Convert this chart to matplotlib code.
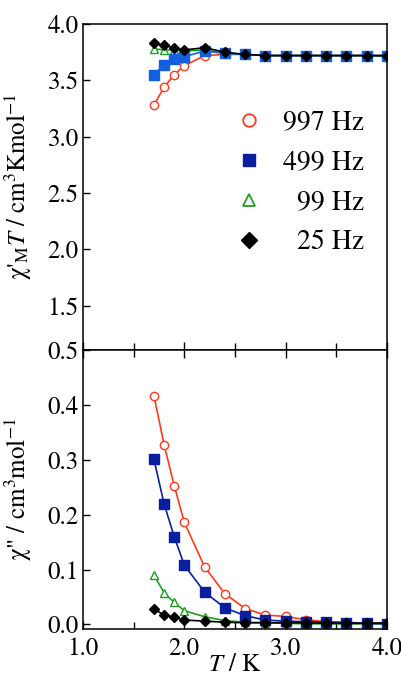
import numpy as np
import matplotlib
matplotlib.use("Agg")
import matplotlib.pyplot as plt
from matplotlib.lines import Line2D
from matplotlib.ticker import MultipleLocator

plt.rcParams["font.family"] = ["STIXGeneral", "Liberation Serif", "DejaVu Serif"]
plt.rcParams["mathtext.fontset"] = "stix"

# temperatures (K)
temps = [1.7, 1.8, 1.9, 2.0, 2.2, 2.4, 2.6, 2.8, 3.0, 3.2, 3.4, 3.6, 3.8, 4.0]

# chi'_M T (cm3 K mol-1)
chit_997 = [3.28, 3.44, 3.55, 3.63, 3.72, 3.73, 3.73, 3.72, 3.72, 3.72, 3.72, 3.72, 3.72, 3.72]
chit_499 = [3.55, 3.64, 3.69, 3.71, 3.76, 3.74, 3.73, 3.72, 3.72, 3.72, 3.72, 3.72, 3.72, 3.72]
chit_99 = [3.78, 3.77, 3.77, 3.76, 3.77, 3.74, 3.73, 3.72, 3.72, 3.72, 3.72, 3.72, 3.72, 3.71]
chit_25 = [3.83, 3.81, 3.79, 3.77, 3.79, 3.75, 3.73, 3.72, 3.72, 3.72, 3.72, 3.72, 3.72, 3.72]

# chi'' (cm3 mol-1)
chi2_997 = [0.417, 0.328, 0.253, 0.186, 0.105, 0.056, 0.029, 0.017, 0.0146, 0.0084,
            0.005, 0.004, 0.002, 0.002]
chi2_499 = [0.301, 0.220, 0.160, 0.108, 0.059, 0.030, 0.016, 0.008, 0.006, 0.005,
            0.004, 0.003, 0.002, 0.001]
chi2_99 = [0.090, 0.058, 0.040, 0.025, 0.014, 0.007, 0.004, 0.003, 0.002, 0.001,
           0.001, 0.001, 0.001, 0.001]
chi2_25 = [0.028, 0.017, 0.013, 0.008, 0.006, 0.004, 0.003, 0.003, 0.003, 0.003,
           0.002, 0.002, 0.002, 0.003]

legend_labels = ["997 Hz", "499 Hz", "  99 Hz", "  25 Hz"]

red = "#ff3a1a"
blue_top = "#145fe0"
blue_bot = "#0a1fa0"
green = "#1e9e1e"

fig = plt.figure(figsize=(4.01, 6.76), dpi=100)
ax1 = fig.add_axes([0.207, 0.482, 0.758, 0.4825])
ax2 = fig.add_axes([0.207, 0.0695, 0.758, 0.4125])

lw = 1.2

# top panel
ax1.plot(temps, chit_997, "-o", color=red, mfc="white", mec=red, ms=6, mew=1.0, lw=lw)
ax1.plot(temps, chit_99, "-^", color=green, mfc="white", mec=green, ms=6, mew=1.0, lw=lw)
ax1.plot(temps, chit_499, "-s", color=blue_top, mfc=blue_top, mec=blue_top, ms=7, lw=lw)
ax1.plot(temps, chit_25, "-D", color="black", mfc="black", ms=5, lw=lw)

# bottom panel
ax2.plot(temps, chi2_997, "-o", color=red, mfc="white", mec=red, ms=6, mew=1.0, lw=lw)
ax2.plot(temps, chi2_99, "-^", color=green, mfc="white", mec=green, ms=6, mew=1.0, lw=lw)
ax2.plot(temps, chi2_499, "-s", color=blue_bot, mfc=blue_bot, mec=blue_bot, ms=7, lw=lw)
ax2.plot(temps, chi2_25, "-D", color="black", mfc="black", ms=5, lw=lw)

for ax in (ax1, ax2):
    ax.set_xlim(1.0, 4.0)
    ax.xaxis.set_major_locator(MultipleLocator(1.0))
    ax.xaxis.set_minor_locator(MultipleLocator(0.5))
    for sp in ax.spines.values():
        sp.set_linewidth(1.1)
    ax.tick_params(which="both", direction="in", labelsize=18, width=1.0)
    ax.tick_params(which="major", length=6)
    ax.tick_params(which="minor", length=5)

ax1.set_ylim(1.107, 4.0)
ax1.set_yticks([1.5, 2.0, 2.5, 3.0, 3.5, 4.0])
ax1.set_yticklabels(["1.5", "2.0", "2.5", "3.0", "3.5", "4.0"])
ax1.tick_params(axis="x", which="both", labelbottom=False)
ax1.tick_params(axis="y", length=5, pad=3)

ax2.set_ylim(-0.0084, 0.5)
ax2.set_yticks([0.0, 0.1, 0.2, 0.3, 0.4, 0.5])
ax2.set_yticklabels(["0.0", "0.1", "0.2", "0.3", "0.4", "0.5"])
ax2.set_xticks([1.0, 2.0, 3.0, 4.0])
ax2.set_xticklabels(["1.0", "2.0", "3.0", "4.0"])
ax2.tick_params(axis="x", which="both", top=True, pad=6)
ax2.tick_params(axis="y", length=5, pad=3)

ax1.set_ylabel("χ'$_{\\rm M}$$\\mathit{T}$ / cm$^3$Kmol$^{-1}$", fontsize=18)
ax2.set_ylabel('χ" / cm$^3$mol$^{-1}$', fontsize=18)
ax2.set_xlabel(r"$\mathit{T}$ / K", fontsize=18, labelpad=-6)
ax1.yaxis.set_label_coords(-0.16, 0.5)
ax2.yaxis.set_label_coords(-0.16, 0.5)

handles = [
    Line2D([], [], ls="none", marker="o", mfc="white", mec=red, ms=9, mew=1.3),
    Line2D([], [], ls="none", marker="s", mfc=blue_bot, mec=blue_bot, ms=9),
    Line2D([], [], ls="none", marker="^", mfc="white", mec=green, ms=9, mew=1.3),
    Line2D([], [], ls="none", marker="D", mfc="black", mec="black", ms=8),
]
ax1.legend(handles, legend_labels, loc="center", bbox_to_anchor=(0.713, 0.513),
           frameon=False, fontsize=20, handlelength=1.0, handletextpad=0.7,
           labelspacing=0.52, borderpad=0)

fig.savefig("out.png", dpi=100)
